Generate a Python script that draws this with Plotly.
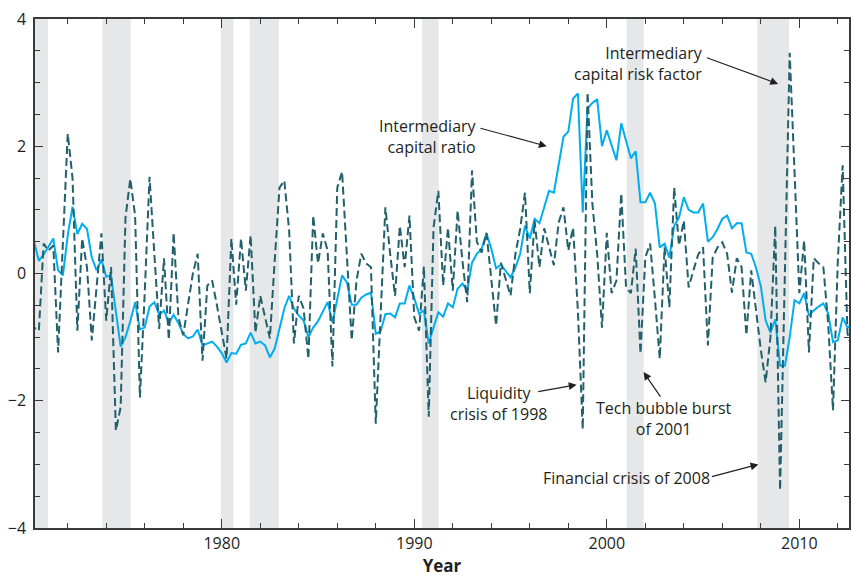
import plotly.graph_objects as go

# Quarterly observations, 1970Q1 .. 2012Q4
start_year = 1970
n_quarters = 172

capital_ratio = [
    0.5, 0.5, 0.2, 0.3, 0.42, 0.55, 0.05, -0.03, 0.6, 1.05,
    0.62, 0.78, 0.7, 0.25, 0.05, 0.22, -0.05, -0.03, -0.6, -1.15,
    -1.0, -0.75, -0.45, -0.88, -0.85, -0.52, -0.45, -0.65, -0.58, -0.78,
    -0.65, -0.78, -0.95, -1.02, -0.99, -0.88, -1.13, -1.1, -1.07, -1.15,
    -1.25, -1.4, -1.25, -1.26, -1.12, -1.1, -0.93, -1.1, -1.07, -1.13,
    -1.32, -1.18, -0.85, -0.55, -0.35, -0.55, -0.66, -0.74, -1.0, -0.85,
    -0.75, -0.6, -0.45, -0.77, -0.4, -0.03, -0.14, -0.49, -0.49, -0.38,
    -0.33, -0.3, -0.95, -0.91, -0.64, -0.63, -0.69, -0.47, -0.47, -0.19,
    -0.39, -0.63, -0.58, -1.1, -0.85, -0.61, -0.68, -0.47, -0.53, -0.24,
    -0.16, -0.27, 0.17, 0.31, 0.39, 0.63, 0.39, 0.08, 0.14, 0.03,
    -0.06, 0.09, 0.31, 0.75, 0.55, 0.86, 0.79, 1.04, 1.3, 1.27,
    1.7, 2.15, 2.23, 2.75, 2.83, 0.96, 2.6, 2.68, 2.74, 2.0,
    2.25, 2.0, 1.78, 2.36, 2.1, 1.81, 1.92, 1.12, 1.12, 1.27,
    1.1, 0.41, 0.47, 0.25, 0.75, 0.88, 1.2, 1.0, 0.96, 0.96,
    1.1, 0.5, 0.57, 0.7, 0.86, 0.91, 0.71, 0.79, 0.79, 0.33,
    0.31, 0.09, -0.2, -0.74, -0.93, -0.72, -1.45, -1.45, -1.0, -0.42,
    -0.47, -0.31, -0.66, -0.58, -0.52, -0.47, -0.63, -1.08, -1.05, -0.69,
    -0.85, -0.8,
]

risk_factor = [
    -0.9, -0.85, -0.9, 0.47, 0.36, 0.44, -1.24, 0.4, 2.2, 1.5,
    -0.9, 0.55, 0.1, -1.05, -0.2, 0.63, -0.74, 0.1, -2.47, -2.1,
    0.88, 1.49, 0.91, -1.95, -0.3, 1.52, 0.3, -0.87, 0.24, -1.04,
    0.64, -0.69, -0.97, -0.5, 0.0, 0.31, -1.37, -0.19, -0.11, -0.5,
    -0.95, -1.34, 0.55, -0.49, 0.55, -0.27, 0.6, -0.93, -0.35, -0.7,
    -1.02, 0.2, 1.35, 1.46, 0.68, -1.1, -0.35, -0.55, -1.34, 0.91,
    0.16, 0.63, 0.36, -1.46, 1.35, 1.6, 0.3, -1.05, -0.11, 0.31,
    0.16, 0.1, -2.36, -0.53, 1.04, 0.3, -0.35, 0.75, 0.1, 0.91,
    -0.69, -0.9, 0.11, -2.25, 0.72, 1.3, -0.19, 0.72, -0.27, 0.99,
    0.2, -0.45, 1.62, 0.5, 0.33, 0.64, -0.1, -0.82, 0.17, -0.1,
    -0.35, 0.3, 0.7, 1.27, -0.31, 0.83, 0.1, 0.71, 0.4, 0.13,
    0.8, 1.04, 0.36, 0.72, -0.6, -2.45, 2.85, 1.1, 0.3, -0.85,
    0.64, -0.31, -0.11, 1.26, -0.22, -0.31, 0.39, -1.26, 0.25, 0.47,
    -0.4, -1.34, 0.41, -0.53, 1.35, 0.44, 0.83, -0.22, 0.05, 0.3,
    0.41, -1.13, 0.25, 0.41, 0.49, 0.31, -0.3, 0.24, 0.1, -0.97,
    0.05, -0.6, -1.2, -1.71, -1.0, 0.75, -3.41, 0.0, 3.47, 1.6,
    -0.31, 0.52, -1.24, 0.24, 0.16, 0.1, -0.8, -2.15, 0.2, 1.7,
    -0.94, -1.2,
]

# NBER recessions (decimal years)
recession_start = [1969.9, 1973.8, 1979.95, 1981.45, 1990.4, 2001.03, 2007.82]
recession_end = [1970.97, 1975.27, 1980.61, 1982.97, 1991.27, 2001.91, 2009.47]

x_ticks = [1980, 1990, 2000, 2010]
y_ticks = [-4, -2, 0, 2, 4]

# Annotation texts and positions (data coordinates)
labels = [
    dict(text="Intermediary<br>capital ratio", x=1993.38, y=2.15, xanchor="right", align="right"),
    dict(text="Intermediary<br>capital risk factor", x=2005.08, y=3.30, xanchor="right", align="right"),
    dict(text="Liquidity<br>crisis of 1998", x=1994.39, y=-2.04, xanchor="center", align="center"),
    dict(text="Tech bubble burst<br>of 2001", x=2002.99, y=-2.28, xanchor="center", align="center"),
    dict(text="Financial crisis of 2008", x=2005.45, y=-3.22, xanchor="right", align="right"),
]
arrows = [
    dict(x0=1993.36, y0=2.29, x1=1996.88, y1=2.0),
    dict(x0=2005.12, y0=3.40, x1=2008.90, y1=2.98),
    dict(x0=1996.36, y0=-1.86, x1=1998.43, y1=-1.75),
    dict(x0=2002.84, y0=-1.96, x1=2001.91, y1=-1.55),
    dict(x0=2005.38, y0=-3.20, x1=2007.87, y1=-3.00),
]

t = [start_year + 0.25 * i for i in range(n_quarters)]

ink = "#231f20"
fig = go.Figure()

fig.add_trace(go.Scatter(
    x=t, y=capital_ratio, mode="lines", name="Intermediary capital ratio",
    line=dict(color="#00aeef", width=2),
))
fig.add_trace(go.Scatter(
    x=t, y=risk_factor, mode="lines", name="Intermediary capital risk factor",
    line=dict(color="#22606b", width=2, dash="8px,4px"),
))

for s, e in zip(recession_start, recession_end):
    fig.add_shape(type="rect", xref="x", yref="paper", x0=s, x1=e, y0=0, y1=1,
                  fillcolor="#e6e7e8", line=dict(width=0), layer="below")

annotations = []
for lab in labels:
    annotations.append(dict(
        text=lab["text"], x=lab["x"], y=lab["y"], xref="x", yref="y",
        xanchor=lab["xanchor"], yanchor="middle", align=lab["align"],
        showarrow=False, font=dict(family="Open Sans", size=16, color=ink),
    ))
for a in arrows:
    annotations.append(dict(
        text="", x=a["x1"], y=a["y1"], ax=a["x0"], ay=a["y0"],
        xref="x", yref="y", axref="x", ayref="y",
        showarrow=True, arrowhead=2, arrowsize=1.3, arrowwidth=1.2,
        arrowcolor=ink, standoff=0, startstandoff=0,
    ))

axis_common = dict(
    showgrid=False, zeroline=False, showline=True, linecolor="#3a3a3a",
    linewidth=1.5, mirror="ticks", ticks="inside", tickcolor="#3a3a3a",
    tickwidth=1.2, tickfont=dict(family="Open Sans", size=16, color=ink),
)

fig.update_layout(
    width=851, height=577,
    margin=dict(l=35, r=0, t=19, b=49),
    plot_bgcolor="white", paper_bgcolor="white",
    showlegend=False,
    font=dict(family="Open Sans", size=16, color=ink),
    annotations=annotations,
    xaxis=dict(
        range=[1970.3, 2012.58], tickmode="array", tickvals=x_ticks,
        ticklen=9,
        minor=dict(tickmode="linear", tick0=1970, dtick=2, ticks="inside",
                   ticklen=5, tickcolor="#3a3a3a", tickwidth=1.2, showgrid=False),
        title=dict(text="<b>Year</b>", font=dict(family="Open Sans", size=17, color=ink),
                   standoff=9),
        **axis_common,
    ),
    yaxis=dict(
        range=[-4, 4], tickmode="array", tickvals=y_ticks,
        ticklen=8, ticklabelstandoff=4,
        minor=dict(tickmode="linear", tick0=0, dtick=0.5, ticks="inside",
                   ticklen=5, tickcolor="#3a3a3a", tickwidth=1.2, showgrid=False),
        **axis_common,
    ),
)

fig.write_html("out.html")
